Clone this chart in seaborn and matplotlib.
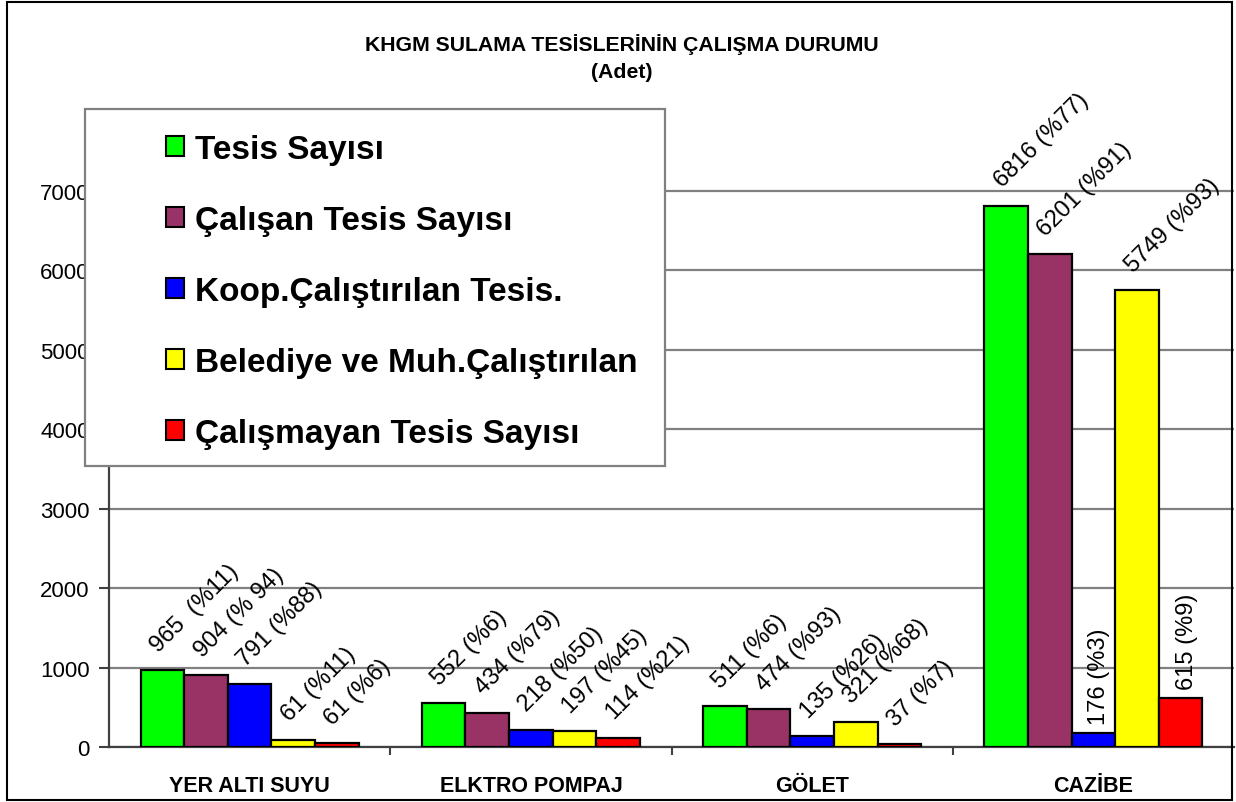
import matplotlib
matplotlib.use("Agg")
import matplotlib.pyplot as plt
from matplotlib.patches import Rectangle, Patch
import pandas as pd
import seaborn as sns

# data
kategoriler = ["YER ALTI SUYU", "ELKTRO POMPAJ", "GÖLET", "CAZİBE"]
seriler = ["Tesis Sayısı", "Çalışan Tesis Sayısı", "Koop.Çalıştırılan Tesis.",
           "Belediye ve Muh.Çalıştırılan", "Çalışmayan Tesis Sayısı"]
tesis = [965, 552, 511, 6816]
calisan = [904, 434, 474, 6201]
koop = [791, 218, 135, 176]
belediye = [90, 197, 321, 5749]
calismayan = [50, 114, 37, 615]
etiketler = [
    ["965  (%11)", "552 (%6)", "511 (%6)", "6816 (%77)"],
    ["904 (% 94)", "434 (%79)", "474 (%93)", "6201 (%91)"],
    ["791 (%88)", "218 (%50)", "135 (%26)", "176 (%3)"],
    ["61 (%11)", "197 (%45)", "321 (%68)", "5749 (%93)"],
    ["61 (%6)", "114 (%21)", "37 (%7)", "615 (%9)"],
]
renkler = ["#00FF00", "#993366", "#0000FF", "#FFFF00", "#FF0000"]

degerler = [tesis, calisan, koop, belediye, calismayan]
rows = []
for s, vals in zip(seriler, degerler):
    for k, v in zip(kategoriler, vals):
        rows.append({"kategori": k, "seri": s, "deger": v})
df = pd.DataFrame(rows)

sns.set_style("white")
plt.rcParams["font.family"] = ["Liberation Sans", "DejaVu Sans"]
plt.rcParams["text.color"] = "black"
plt.rcParams["xtick.color"] = "black"
plt.rcParams["ytick.color"] = "black"

W, H = 1236, 803
fig = plt.figure(figsize=(W / 100, H / 100), dpi=100)
ax = fig.add_axes([109 / W, 1 - 748 / H, (1234 - 109) / W, (748 - 190) / H])

sns.barplot(data=df, x="kategori", y="deger", hue="seri", order=kategoriler,
            hue_order=seriler, palette=dict(zip(seriler, renkler)), width=0.775,
            saturation=1, edgecolor="black", linewidth=1.6, errorbar=None,
            gap=0, legend=False, ax=ax, zorder=3)

ax.set_ylim(0, 7025)
ax.set_xlim(-0.5, 3.5)
ax.set_yticks(range(0, 8000, 1000))
ax.yaxis.grid(True, color="#808080", linewidth=1.6, zorder=0)
ax.set_axisbelow(True)
ax.set_xlabel("")
ax.set_ylabel("")
for sp in ["top", "right"]:
    ax.spines[sp].set_visible(False)
for sp in ["left", "bottom"]:
    ax.spines[sp].set_color("#404040")
    ax.spines[sp].set_linewidth(1.6)
ax.tick_params(axis="y", length=7, width=1.5, color="#404040", labelcolor="black",
               pad=7, labelsize=16, left=True)
ax.set_xticks([0.5, 1.5, 2.5], minor=True)
ax.tick_params(axis="x", which="major", length=0, pad=20, labelsize=15.5, labelcolor="black")
ax.tick_params(axis="x", which="minor", length=6, width=1.5, color="#404040", bottom=True)
for lb in ax.get_xticklabels():
    lb.set_fontweight("bold")

# data labels
for i, cont in enumerate(ax.containers):
    for j, bar in enumerate(cont):
        x = bar.get_x() + bar.get_width() / 2
        y = bar.get_height()
        if j == 3 and i in (2, 4):
            ax.annotate(etiketler[i][j], (x, y), xytext=(6, 9), textcoords="offset pixels",
                        rotation=90, ha="center", va="bottom", fontsize=17,
                        color="black", annotation_clip=False, zorder=4)
        else:
            ax.annotate(etiketler[i][j], (x, y), xytext=(-4, 18), textcoords="offset pixels",
                        rotation=45, rotation_mode="anchor", ha="left", va="baseline",
                        fontsize=17, color="black", annotation_clip=False, zorder=4)

# title
fig.text(622 / W, 1 - 45 / H, "KHGM SULAMA TESİSLERİNİN ÇALIŞMA DURUMU",
         ha="center", va="center", fontsize=15.3, fontweight="bold")
fig.text(622 / W, 1 - 73 / H, "(Adet)", ha="center", va="center",
         fontsize=15.3, fontweight="bold")

# legend box
fig.add_artist(Rectangle((85 / W, 1 - 467 / H), 580 / W, 357 / H,
                         transform=fig.transFigure, facecolor="white",
                         edgecolor="#808080", linewidth=1.6, zorder=5))
handles = [Patch(facecolor=c, edgecolor="black", linewidth=1.5) for c in renkler]
leg = fig.legend(handles, seriler, loc="upper left",
                 bbox_to_anchor=(166 / W, 1 - 135 / H), bbox_transform=fig.transFigure,
                 frameon=False, borderpad=0, borderaxespad=0,
                 handlelength=0.55, handleheight=0.55, handletextpad=0.32,
                 labelspacing=1.2, prop={"size": 24, "weight": "bold"})
leg.set_zorder(6)

# outer frame
fig.add_artist(Rectangle((7 / W, 2 / H), 1225 / W, 798 / H, transform=fig.transFigure,
                         facecolor="none", edgecolor="black", linewidth=1.5, zorder=7))

fig.savefig("out.png", dpi=100)
